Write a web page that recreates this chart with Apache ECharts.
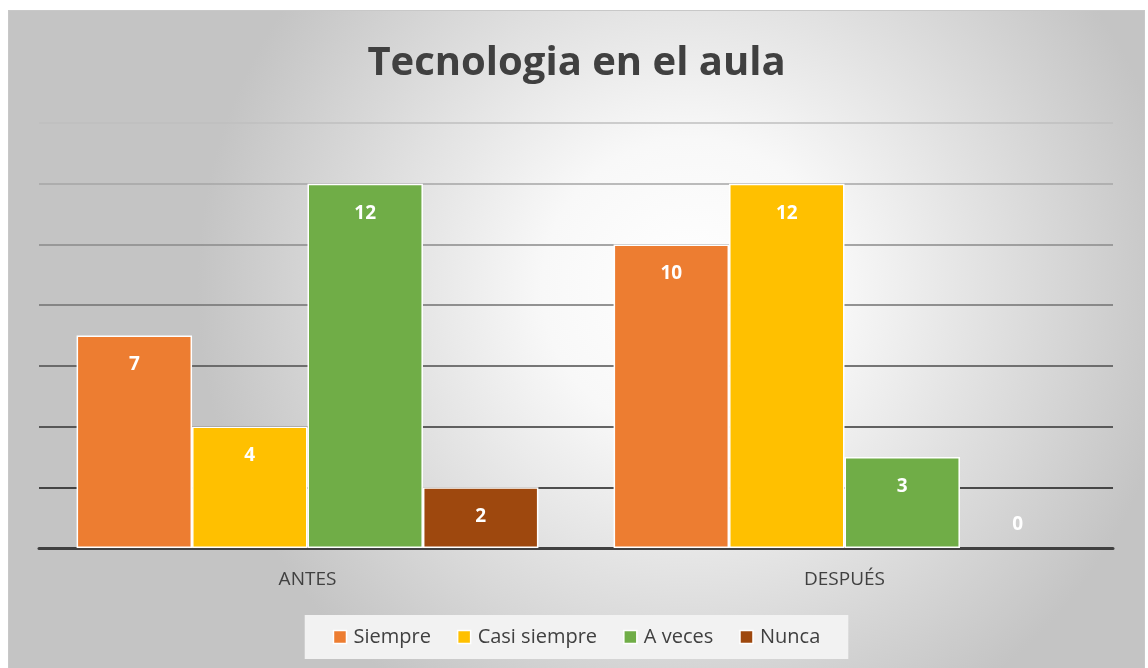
<!DOCTYPE html>
<html>
<head>
<meta charset="utf-8">
<script src="https://cdn.jsdelivr.net/npm/echarts@6/dist/echarts.min.js"></script>
<style>
html,body{margin:0;padding:0;background:#fff;width:1148px;height:668px;overflow:hidden;}
#chart{position:absolute;left:8px;top:10px;width:1137px;height:658px;border-left:1px solid #c8c8c8;border-top:1px solid #c8c8c8;border-right:1px solid #c8c8c8;box-sizing:border-box;}
</style>
</head>
<body>
<div id="chart"></div>
<script>
const titleText = 'Tecnologia en el aula';
const categories = ['ANTES', 'DESPUÉS'];
const seriesNames = ['Siempre', 'Casi siempre', 'A veces', 'Nunca'];
const siempre = [7, 10];
const casiSiempre = [4, 12];
const aVeces = [12, 3];
const nunca = [2, 0];
const seriesColors = ['#ED7D31', '#FFC000', '#70AD47', '#9E480E'];
const gridColors = ['#404040', '#1a1a1a', '#333333', '#4d4d4d', '#707070', '#8a8a8a', '#a6a6a6', '#bfbfbf'];

const allValues = [siempre, casiSiempre, aVeces, nunca];
const chart = echarts.init(document.getElementById('chart'));

function makeData(vals) {
  return vals.map(v => v === 0
    ? { value: v, itemStyle: { borderWidth: 0 }, label: { position: 'top', distance: 14 } }
    : { value: v });
}

chart.setOption({
  backgroundColor: {
    type: 'radial', x: 0.6, y: 0.42, r: 0.75,
    colorStops: [
      { offset: 0, color: '#ffffff' },
      { offset: 0.3, color: '#f8f8f8' },
      { offset: 1, color: '#c4c4c4' }
    ]
  },
  animation: false,
  title: {
    text: titleText,
    left: 'center',
    top: 28,
    textStyle: { fontFamily: 'Open Sans', fontWeight: 'bold', fontSize: 40, color: '#404040' }
  },
  legend: {
    data: seriesNames,
    bottom: 9,
    left: 'center',
    itemWidth: 13,
    itemHeight: 13,
    itemGap: 26,
    padding: [12, 28, 12, 28],
    backgroundColor: '#f2f2f2',
    icon: 'rect',
    itemStyle: { borderColor: '#ffffff', borderWidth: 1.5 },
    textStyle: { fontFamily: 'Open Sans', fontSize: 20, color: '#404040', padding: [0, 0, 0, 2] }
  },
  grid: { left: 30, right: 31, top: 112, bottom: 120, containLabel: false },
  xAxis: {
    type: 'category',
    data: categories,
    axisLine: { lineStyle: { color: '#404040', width: 3 } },
    axisTick: { show: false },
    axisLabel: { color: '#404040', fontFamily: 'Open Sans', fontSize: 19, margin: 22 }
  },
  yAxis: {
    type: 'value',
    min: 0, max: 14, interval: 2,
    axisLabel: { show: false },
    axisLine: { show: false },
    axisTick: { show: false },
    splitLine: { lineStyle: { color: gridColors, width: 1.5 } }
  },
  series: seriesNames.map((name, i) => ({
    name: name,
    type: 'bar',
    data: makeData(allValues[i]),
    barGap: '0%',
    barCategoryGap: '14%',
    itemStyle: { color: seriesColors[i], borderColor: '#ffffff', borderWidth: 1.5 },
    label: {
      show: true,
      position: 'insideTop',
      distance: 20,
      color: '#ffffff',
      fontFamily: 'Open Sans',
      fontWeight: 'bold',
      fontSize: 19
    }
  }))
});
</script>
</body>
</html>
